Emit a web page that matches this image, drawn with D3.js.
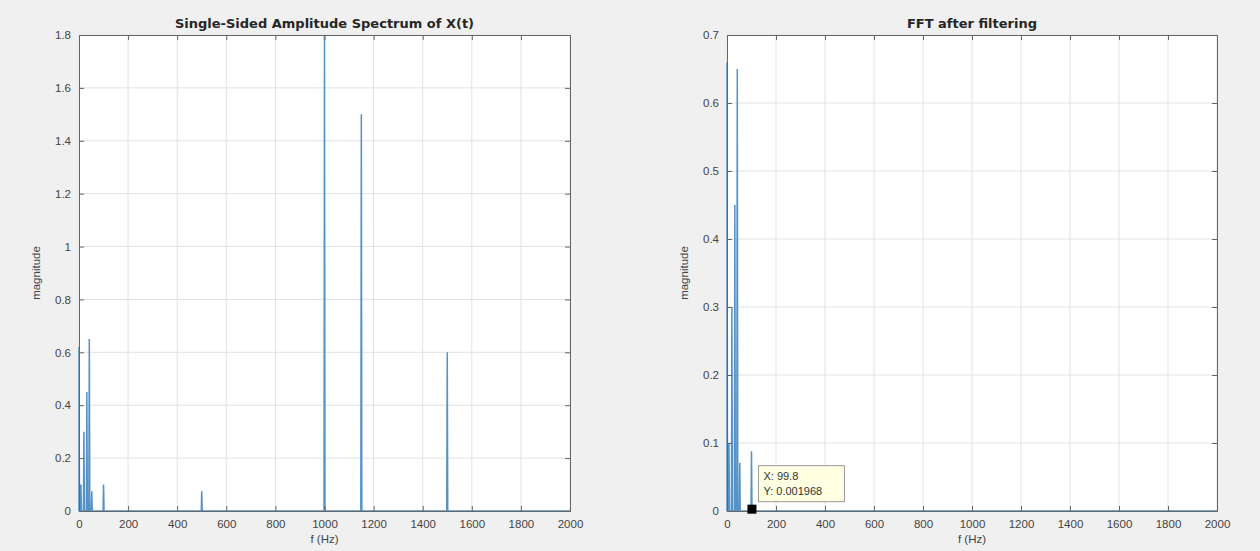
<!DOCTYPE html>
<head>
<meta charset="utf-8">
<script src="https://cdnjs.cloudflare.com/ajax/libs/d3/7.8.5/d3.min.js"></script>
<title>FFT</title>
<style>
body { margin:0; background:#f0f0f0; }
text { font-family: "Liberation Sans", Arial, sans-serif; }
.title { font-family: "DejaVu Sans", sans-serif; }
</style>
</head>
<body>
<script>
// peaks (Hz, magnitude)
var rawFreq = [0, 8, 20, 32, 42, 52, 100, 500, 1000, 1150, 1500];
var rawMag  = [0.62, 0.1, 0.3, 0.45, 0.65, 0.075, 0.1, 0.075, 1.8, 1.5, 0.6];
var filtFreq = [0, 8, 20, 32, 42, 52, 100];
var filtMag  = [0.66, 0.1, 0.3, 0.45, 0.65, 0.071, 0.088];
var xTicks = [0, 200, 400, 600, 800, 1000, 1200, 1400, 1600, 1800, 2000];
var yTicksLeft = [0, 0.2, 0.4, 0.6, 0.8, 1, 1.2, 1.4, 1.6, 1.8];
var yTicksRight = [0, 0.1, 0.2, 0.3, 0.4, 0.5, 0.6, 0.7];
var tip = {x: 99.8, y: 0.001968};

var svg = d3.select("body").append("svg")
    .attr("width", 1260).attr("height", 551);

function spikes(f, m) {
  var pts = [[0, 0]];
  f.forEach(function(v, i) {
    pts.push([Math.max(0, v - 2), 0], [v, m[i]], [v + 2, 0]);
  });
  pts.push([2000, 0]);
  return pts;
}

function panel(x0, x1, ymax, yTicks, freq, mag, title) {
  var x = d3.scaleLinear().domain([0, 2000]).range([x0, x1]);
  var y = d3.scaleLinear().domain([0, ymax]).range([511, 35]);
  var g = svg.append("g");
  g.append("rect").attr("x", x0).attr("y", 35).attr("width", x1 - x0).attr("height", 476)
    .attr("fill", "#fff");
  // grid
  g.selectAll(".gx").data(xTicks).enter().append("line")
    .attr("x1", function(d){return x(d);}).attr("x2", function(d){return x(d);})
    .attr("y1", 35).attr("y2", 511).attr("stroke", "#e2e2e2");
  g.selectAll(".gy").data(yTicks).enter().append("line")
    .attr("x1", x0).attr("x2", x1)
    .attr("y1", function(d){return y(d);}).attr("y2", function(d){return y(d);})
    .attr("stroke", "#e2e2e2");
  // data
  var line = d3.line().x(function(d){return x(d[0]);}).y(function(d){return y(Math.min(d[1], ymax));});
  g.append("path").datum(spikes(freq, mag)).attr("d", line)
    .attr("fill", "none").attr("stroke", "#5592c6").attr("stroke-width", 1.5);
  // axes
  g.append("g").attr("transform", "translate(0,511)")
    .call(d3.axisBottom(x).tickValues(xTicks).tickSize(-5).tickPadding(9).tickFormat(d3.format("d")));
  g.append("g").attr("transform", "translate(" + x0 + ",0)")
    .call(d3.axisLeft(y).tickValues(yTicks).tickSize(-5).tickPadding(8).tickFormat(function(d){ return d3.format("")(+d.toFixed(1)); }));
  g.append("g").attr("transform", "translate(0,35)")
    .call(d3.axisTop(x).tickValues(xTicks).tickSize(-5).tickFormat(""));
  g.append("g").attr("transform", "translate(" + x1 + ",0)")
    .call(d3.axisRight(y).tickValues(yTicks).tickSize(-5).tickFormat(""));
  g.selectAll(".domain").attr("stroke", "#666");
  g.selectAll(".tick line").attr("stroke", "#666");
  g.selectAll(".tick text").attr("fill", "#444").style("font-size", "11.5px");
  g.append("text").attr("class", "title").attr("x", (x0 + x1) / 2).attr("y", 28).attr("text-anchor", "middle")
    .style("font-size", "13px").style("font-weight", "bold").attr("fill", "#262626").text(title);
  g.append("text").attr("x", (x0 + x1) / 2).attr("y", 543).attr("text-anchor", "middle")
    .style("font-size", "11.5px").attr("fill", "#444").text("f (Hz)");
  g.append("text").attr("transform", "translate(" + (x0 - 39) + ",273) rotate(-90)")
    .attr("text-anchor", "middle").style("font-size", "11.5px").attr("fill", "#444").text("magnitude");
  return {x: x, y: y, g: g};
}

panel(79, 570, 1.8, yTicksLeft, rawFreq, rawMag, "Single-Sided Amplitude Spectrum of X(t)");
var p = panel(727, 1217, 0.7, yTicksRight, filtFreq, filtMag, "FFT after filtering");

// data tip
var tx = p.x(tip.x), ty = p.y(tip.y);
p.g.append("rect").attr("x", tx + 7).attr("y", ty - 44).attr("width", 86).attr("height", 36)
  .attr("fill", "#ffffe1").attr("stroke", "#999");
p.g.append("text").attr("x", tx + 12).attr("y", ty - 30).style("font-size", "11px").attr("fill", "#333")
  .text("X: " + tip.x);
p.g.append("text").attr("x", tx + 12).attr("y", ty - 15).style("font-size", "11px").attr("fill", "#333")
  .text("Y: " + tip.y);
p.g.append("rect").attr("x", tx - 4).attr("y", ty - 5).attr("width", 9).attr("height", 9).attr("fill", "#000");
</script>
</body>
